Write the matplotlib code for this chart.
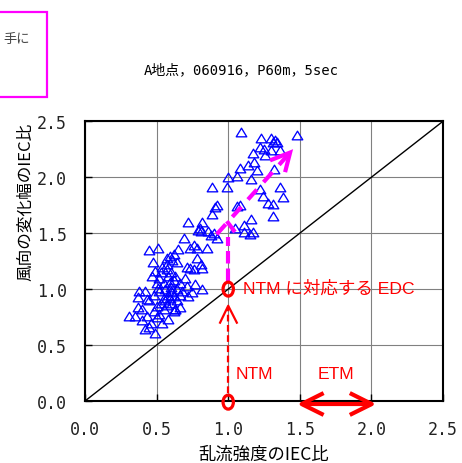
import matplotlib
matplotlib.use("Agg")
import matplotlib.pyplot as plt
from matplotlib.patches import Ellipse, Rectangle
from matplotlib.path import Path
from matplotlib import font_manager

# ---- data: turbulence-intensity ratio (x) vs. direction-change ratio (y)
ti_ratio = [
    1.09, 1.48, 1.23, 1.30, 1.33, 1.34, 1.31, 1.22, 1.25, 1.30, 1.36, 1.17, 1.26,
    1.14, 1.18, 1.08, 1.20, 1.00, 1.06, 1.16, 1.32, 0.89, 0.99, 1.22, 1.36, 1.24,
    1.38, 0.91, 0.92, 1.06, 1.08, 1.28, 1.31, 0.89, 1.16, 1.31, 1.11, 1.15, 1.17,
    1.11, 1.05, 0.92, 0.88, 0.90,
    0.72, 0.82, 0.80, 0.81, 0.79, 0.86, 0.69, 0.76, 0.73, 0.78, 0.85, 0.65, 0.45,
    0.51, 0.59, 0.62, 0.57, 0.61, 0.64, 0.475, 0.71, 0.73, 0.78, 0.81, 0.82, 0.76,
    0.47, 0.49,
    0.52, 0.55, 0.58, 0.60, 0.62, 0.56, 0.60, 0.64, 0.66, 0.58, 0.62, 0.55, 0.52,
    0.50, 0.48, 0.45, 0.53, 0.57, 0.61, 0.64, 0.66, 0.68, 0.70, 0.63, 0.57, 0.53,
    0.60, 0.59, 0.55, 0.50, 0.48, 0.52, 0.62, 0.66, 0.63, 0.54, 0.57, 0.59, 0.61,
    0.51, 0.56,
    0.71, 0.77, 0.82, 0.72, 0.75,
    0.38, 0.37, 0.43, 0.42, 0.31, 0.35, 0.37, 0.40, 0.43, 0.50, 0.42, 0.49, 0.535,
    0.46, 0.58, 0.628, 0.45, 0.40,
]
wd_ratio = [
    2.40, 2.38, 2.35, 2.35, 2.33, 2.31, 2.31, 2.27, 2.25, 2.24, 2.24, 2.22, 2.20,
    2.11, 2.14, 2.08, 2.06, 2.00, 2.01, 1.98, 2.07, 1.91, 1.91, 1.89, 1.91, 1.83,
    1.82, 1.73, 1.75, 1.74, 1.75, 1.77, 1.76, 1.67, 1.63, 1.65, 1.57, 1.49, 1.51,
    1.51, 1.55, 1.46, 1.48, 1.50,
    1.60, 1.60, 1.55, 1.52, 1.53, 1.52, 1.46, 1.39, 1.37, 1.37, 1.37, 1.36, 1.35,
    1.37, 1.30, 1.31, 1.28, 1.26, 1.24, 1.24, 1.20, 1.19, 1.28, 1.22, 1.19, 1.18,
    1.12, 1.16,
    1.10, 1.05, 1.12, 1.15, 1.08, 1.00, 1.02, 1.00, 1.05, 0.95, 0.94, 0.92, 0.98,
    1.05, 0.95, 0.90, 0.88, 0.86, 0.88, 0.90, 0.95, 0.98, 1.10, 1.12, 1.18, 1.15,
    0.98, 0.92, 0.82, 0.85, 0.80, 0.78, 0.80, 0.84, 0.82, 1.20, 1.22, 1.06, 0.97,
    1.01, 0.90,
    1.03, 1.045, 1.00, 0.94, 0.97,
    0.985, 0.93, 0.91, 0.98, 0.76, 0.76, 0.84, 0.82, 0.76, 0.75, 0.64, 0.61, 0.70,
    0.70, 0.73, 0.82, 0.66, 0.72,
]

x_ticks = [0.0, 0.5, 1.0, 1.5, 2.0, 2.5]
y_ticks = [0.0, 0.5, 1.0, 1.5, 2.0, 2.5]
tick_labels = ["0.0", "0.5", "1.0", "1.5", "2.0", "2.5"]

title = "A地点，060916，P60m，5sec"
xlabel = "乱流強度のIEC比"
ylabel = "風向の変化幅のIEC比"

# ---- fonts
names = {f.name for f in font_manager.fontManager.ttflist}
cjk = "Noto Sans CJK JP"
mono = ["DejaVu Sans Mono", cjk]
if "Liberation Sans Narrow" in names:
    narrow, note_size = ["Liberation Sans Narrow", cjk], 13.5
else:
    narrow, note_size = ["Liberation Sans", cjk], 12.6

MAGENTA = "#ff00ff"
RED = "#ff0000"
BLUE = "#0000ff"

fig = plt.figure(figsize=(4.62, 4.64), dpi=100)
ax = fig.add_axes([0.184, 0.1336, 0.775, 0.603])

ax.set_xlim(0, 2.5)
ax.set_ylim(0, 2.5)
ax.set_xticks(x_ticks)
ax.set_yticks(y_ticks)
ax.set_xticklabels(tick_labels, family=mono, fontsize=12)
ax.set_yticklabels(tick_labels, family=mono, fontsize=12)
ax.tick_params(direction="in", length=5, width=1, pad=13, color="black",
               labelcolor="#222222")
ax.tick_params(axis="x", pad=14)
ax.grid(True, color="#808080", lw=0.8)
ax.set_axisbelow(True)
for s in ax.spines.values():
    s.set_linewidth(1.5)

# 1:1 reference line
ax.plot([0, 2.5], [0, 2.5], color="black", lw=1.0, zorder=2)

# open triangle markers, a little flatter than tall
tri = Path([(0, 0.82), (-1, -0.82), (1, -0.82), (0, 0.82)],
           [Path.MOVETO, Path.LINETO, Path.LINETO, Path.CLOSEPOLY])
ax.plot(ti_ratio, wd_ratio, linestyle="none", marker=tri, markersize=7.6,
        markerfacecolor="none", markeredgecolor=BLUE, markeredgewidth=0.95,
        zorder=3)

# magenta: rise from the NTM point, then trend toward upper right
ax.plot([1.0, 1.0], [1.07, 1.465], color=MAGENTA, lw=3, dashes=(3.0, 1.2),
        solid_capstyle="butt", zorder=5)
ax.plot([0.92, 1.432], [1.49, 2.22], color=MAGENTA, lw=3, dashes=(3.2, 2.4),
        solid_capstyle="butt", zorder=5)
ax.plot([0.99, 1.047], [1.607, 1.51], color=MAGENTA, lw=3,
        solid_capstyle="butt", zorder=5)
ax.plot([1.292, 1.432, 1.397], [2.15, 2.22, 2.045], color=MAGENTA, lw=3,
        solid_capstyle="butt", solid_joinstyle="miter", zorder=5)

# red: NTM on the x axis mapped up to the EDC point
ax.plot([1.0, 1.0], [0.07, 0.84], color=RED, lw=1.6, dashes=(3.0, 1.6), zorder=5)
ax.plot([0.943, 1.0, 1.06], [0.70, 0.851, 0.70], color=RED, lw=1.6, zorder=5)
for yc in (1.0, -0.01):
    ax.add_patch(Ellipse((1.0, yc), 0.072, 0.125, fill=False, edgecolor=RED,
                         lw=2.3, zorder=6, clip_on=False))

# ETM range, double-headed arrow
ax.plot([1.513, 2.002], [-0.027, -0.027], color=RED, lw=3, clip_on=False,
        solid_capstyle="butt", zorder=6)
ax.plot([1.653, 1.513, 1.653], [0.0625, -0.027, -0.116], color=RED, lw=3,
        clip_on=False, zorder=6)
ax.plot([1.862, 2.002, 1.862], [0.0625, -0.027, -0.116], color=RED, lw=3,
        clip_on=False, zorder=6)

ax.text(1.10, 1.018, "NTM に対応する EDC", color=RED, family=narrow,
        fontsize=note_size, ha="left", va="center", zorder=7)
ax.text(1.18, 0.25, "NTM", color=RED, family=narrow, fontsize=note_size,
        ha="center", va="center", zorder=7)
ax.text(1.753, 0.25, "ETM", color=RED, family=narrow, fontsize=note_size,
        ha="center", va="center", zorder=7)

# titles and axis labels
fig.text(0.522, 0.849, title, family=mono, fontsize=10, ha="center",
         va="center")
fig.text(0.571, 0.019, xlabel, family=[cjk], fontsize=12.5, ha="center",
         va="center")
fig.text(0.054, 0.565, ylabel, family=[cjk], fontsize=12, ha="center",
         va="center", rotation=90)

# callout box at upper left
fig.patches.append(Rectangle((-0.2, 1 - 98 / 464), 0.2 + 46.5 / 462, 85 / 464,
                             transform=fig.transFigure, fill=False,
                             edgecolor=MAGENTA, lw=1.6))
fig.text(3 / 462, 1 - 39 / 464, "手に", family=[cjk], fontsize=9.5,
         color="#444444", ha="left", va="center")

fig.savefig("out.png", dpi=100)
